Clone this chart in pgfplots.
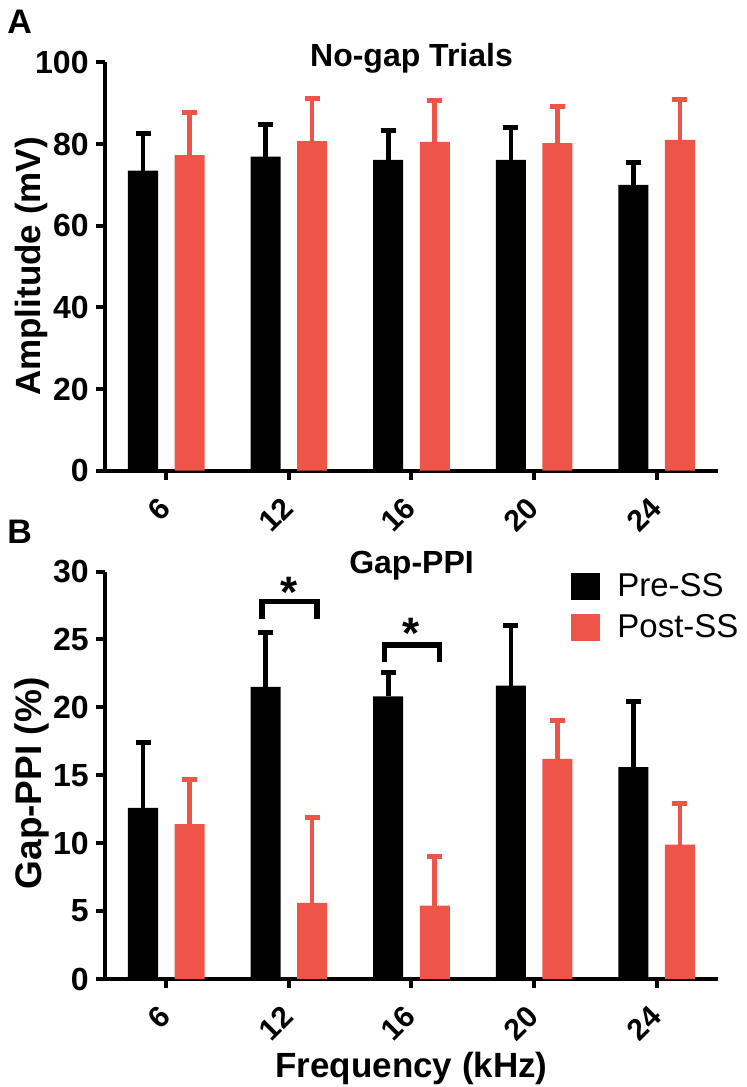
\documentclass[border=0pt]{standalone}
\usepackage{pgfplots}
\usepackage{pgfplotstable}
\pgfplotsset{compat=1.18}
\usepackage{fontspec}
\setmainfont{Liberation Sans}
\definecolor{postred}{RGB}{238,84,72}

\pgfplotstableread{
x pre preerr post posterr
0 73.5 9.1 77.3 10.5
1 76.9 7.8 80.7 10.4
2 76.1 7.1 80.5 10.1
3 76.1 7.9 80.2 9.0
4 70.0 5.5 81.0 9.8
}\amp
\pgfplotstableread{
x pre preerr post posterr
0 12.6 4.8 11.4 3.3
1 21.5 4.0 5.6 6.3
2 20.8 1.8 5.4 3.6
3 21.6 4.4 16.2 2.8
4 15.6 4.8 9.9 3.0
}\ppi

\pgfplotsset{
  panel/.style={
    scale only axis, width=306.5pt,
    axis x line*=bottom, axis y line*=left,
    axis line style={line width=2pt},
    xmin=-0.5, xmax=4.5, ymin=0,
    xtick={0,...,4}, xticklabels={6,12,16,20,24},
    tick style={line width=2pt, black},
    tick align=outside, major tick length=4.5pt,
    minor tick num=0,
    ybar, bar width=0.245,
    clip=false,
    /pgf/number format/assume math mode=true,
    yticklabel style={font=\bfseries\fontsize{16}{19}\selectfont, inner sep=0pt, anchor=east, xshift=-3.5pt},
    xticklabel style={xshift=-0.5pt, yshift=-11.5pt, rotate=45, anchor=east, inner sep=0pt, font=\bfseries\fontsize{15}{18}\selectfont},
    title style={at={(axis description cs:0.5,1)}, anchor=base, font=\bfseries\fontsize{16}{19}\selectfont},
  },
  prebar/.style={fill=black, draw=none, bar shift=-0.19,
    legend image code/.code={\fill[black] (0pt,-6.75pt) rectangle (14.5pt,6.75pt);},
    error bars/.cd, y dir=plus, y explicit,
    error bar style={draw=black, line width=2.3pt},
    error mark options={rotate=90, draw=black, line width=2.5pt, mark size=3.75pt}},
  postbar/.style={fill=postred, draw=none, bar shift=0.19,
    legend image code/.code={\fill[postred] (0pt,-6.75pt) rectangle (14.5pt,6.75pt);},
    error bars/.cd, y dir=plus, y explicit,
    error bar style={draw=postred, line width=2.3pt},
    error mark options={rotate=90, draw=postred, line width=2.5pt, mark size=3.75pt}},
}

\begin{document}
\begin{tikzpicture}
\useasboundingbox (0pt,0pt) rectangle (373pt,-543.5pt);
\node[anchor=base west, inner sep=0pt, font=\bfseries\fontsize{17}{20}\selectfont] at (3.5pt,-16.5pt) {A};
\node[anchor=base west, inner sep=0pt, font=\bfseries\fontsize{17}{20}\selectfont] at (3.5pt,-271.5pt) {B};

\begin{axis}[panel, at={(52.5pt,-235.35pt)}, anchor=south west, height=204.2pt,
  ymax=100, ytick={0,20,...,100},
  title={No-gap Trials}, title style={yshift=-8.2pt},
  ylabel={Amplitude (mV)},
  ylabel style={at={(axis description cs:-0.106,0.5)}, anchor=base, font=\bfseries\fontsize{17.5}{21}\selectfont}]
\addplot[prebar] table[x=x, y=pre, y error=preerr]{\amp};
\addplot[postbar] table[x=x, y=post, y error=posterr]{\amp};
\end{axis}

\begin{axis}[panel, at={(52.5pt,-489.5pt)}, anchor=south west, height=203.75pt,
  ymax=30, ytick={0,5,...,30},
  title={Gap-PPI}, title style={yshift=-6.9pt},
  ylabel={Gap-PPI (\%)},
  ylabel style={at={(axis description cs:-0.104,0.48)}, anchor=base, font=\bfseries\fontsize{18.5}{22}\selectfont},
  xlabel={Frequency (kHz)},
  xlabel style={at={(axis description cs:0.5,0)}, anchor=base, yshift=-49pt, font=\bfseries\fontsize{17.5}{21}\selectfont},
  legend style={at={(axis description cs:0.7602,0.9963)}, anchor=north west, draw=none, fill=none, inner sep=0pt,
    font=\fontsize{16.5}{19}\selectfont, nodes={inner sep=0pt}, row sep=7pt,
    /tikz/every odd column/.style={column sep=8.5pt}},
  legend cell align=left]
\addplot[prebar] table[x=x, y=pre, y error=preerr]{\ppi};
\addlegendentry{Pre-SS}
\addplot[postbar] table[x=x, y=post, y error=posterr]{\ppi};
\addlegendentry{Post-SS}
\draw[line width=2.8pt, line join=miter] (axis cs:0.78,26.5) -- (axis cs:0.78,27.8) -- (axis cs:1.229,27.8) -- (axis cs:1.229,26.5);
\node[anchor=north, inner sep=0pt, font=\bfseries\fontsize{22}{22}\selectfont] at (axis cs:1.0,29.63) {*};
\draw[line width=2.8pt, line join=miter] (axis cs:1.78,23.35) -- (axis cs:1.78,24.6) -- (axis cs:2.227,24.6) -- (axis cs:2.227,23.35);
\node[anchor=north, inner sep=0pt, font=\bfseries\fontsize{22}{22}\selectfont] at (axis cs:2.0,26.6) {*};
\end{axis}
\end{tikzpicture}
\end{document}
